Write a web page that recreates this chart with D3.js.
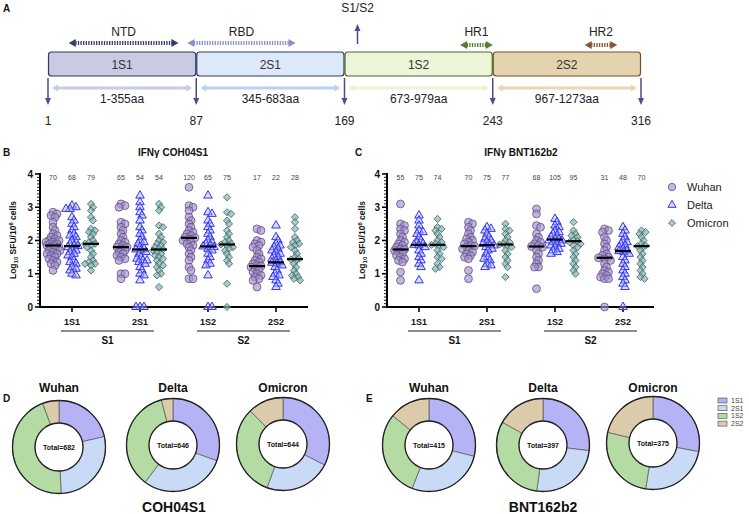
<!DOCTYPE html>
<html><head><meta charset="utf-8">
<script src="https://cdn.jsdelivr.net/npm/d3@7"></script>
<style>body{margin:0;background:#fff}svg{display:block;font-family:"Liberation Sans",Arial,Helvetica,sans-serif}</style>
</head><body><svg id="c" width="749" height="514"></svg>
<script>
// ---------- DATA ----------
const segments = ['1S1','2S1','1S2','2S2'];
const segRanges = ['1-355aa','345-683aa','673-979aa','967-1273aa'];
const boundaryLabels = ['1','87','169','243','316'];
const domainNames = ['NTD','RBD','HR1','HR2'];
const domainSpans = [[0.14,0.88],[0.94,1.67],[2.78,3.0],[3.62,3.84]]; // in segment units
const variants = ['Wuhan','Delta','Omicron'];
const pieKeys = ['1S1','2S1','1S2','2S2'];

// Panel B (COH04S1) values, per segment
const cohWuhan = [
  [2.85,2.8,2.75,2.7,2.55,2.4,2.3,2.2,2.15,2.1,2.05,2.0,1.95,1.9,1.9,1.85,1.85,1.8,1.8,1.75,1.7,1.7,1.65,1.6,1.55,1.5,1.45,1.4,1.35,1.3,1.25,1.1,2.0,1.95,1.6],
  [3.1,3.05,3.0,2.55,2.5,2.4,2.3,2.2,2.1,2.0,1.95,1.9,1.85,1.8,1.8,1.75,1.7,1.65,1.6,1.55,1.5,1.45,1.4,1.0,1.0,0.85],
  [3.6,3.05,3.0,2.9,2.7,2.6,2.5,2.4,2.3,2.25,2.2,2.15,2.1,2.08,2.05,2.0,1.95,1.9,1.85,1.8,1.7,1.6,1.5,1.4,1.2,1.1,0.85,0.85],
  [2.35,2.3,2.0,1.95,1.9,1.85,1.8,1.7,1.6,1.5,1.45,1.4,1.35,1.3,1.25,1.23,1.2,1.15,1.1,1.05,1.0,0.95,0.9,0.85,0.8,0.6]
];
const cohDelta = [
  [3.05,3.0,2.95,2.95,2.7,2.6,2.5,2.4,2.3,2.2,2.15,2.1,2.0,1.95,1.9,1.85,1.83,1.8,1.75,1.7,1.65,1.6,1.55,1.5,1.4,1.35,1.3,1.2,1.15,1.1,1.0,0.95],
  [3.35,3.15,3.0,2.85,2.75,2.6,2.4,2.3,2.2,2.1,2.0,1.95,1.9,1.8,1.75,1.73,1.7,1.65,1.6,1.5,1.45,1.4,1.4,1.35,1.3,1.2,1.1,1.0,0.95,0.8,0,0,0],
  [3.35,2.85,2.8,2.6,2.5,2.4,2.3,2.2,2.1,2.0,1.95,1.9,1.85,1.82,1.8,1.75,1.7,1.6,1.5,1.4,1.3,1.25,0.95,0,0],
  [2.45,2.1,2.0,1.9,1.85,1.8,1.75,1.7,1.65,1.6,1.55,1.5,1.45,1.4,1.35,1.33,1.3,1.25,1.2,1.1,1.0,0.95,0.9,0.8,0.7,0.6]
];
const cohOmicron = [
  [3.1,3.0,2.9,2.7,2.6,2.35,2.3,2.25,2.2,2.1,2.0,1.95,1.9,1.9,1.85,1.8,1.7,1.6,1.5,1.4,1.35,1.3,1.3,1.25,1.1],
  [3.1,3.0,2.9,2.45,2.4,2.2,2.1,2.0,1.95,1.9,1.85,1.8,1.75,1.73,1.7,1.65,1.6,1.55,1.5,1.45,1.4,1.3,1.25,1.2,1.1,1.0,0.95,0.6],
  [3.3,2.85,2.8,2.6,2.5,2.3,2.2,2.1,2.0,1.95,1.9,1.88,1.85,1.8,1.75,1.7,1.6,1.5,1.4,1.3,0.7,0],
  [2.7,2.55,2.35,2.1,2.0,1.95,1.9,1.85,1.8,1.7,1.6,1.5,1.45,1.43,1.4,1.3,1.2,1.1,1.0,0.95,0.9,0.85,0.8]
];
const cohMedWuhan = [1.85,1.8,2.08,1.23];
const cohMedDelta = [1.83,1.73,1.82,1.34];
const cohMedOmicron = [1.9,1.73,1.88,1.44];
const cohCounts = [[70,68,79],[65,54,54],[120,65,75],[17,22,28]];

// Panel C (BNT162b2) values, per segment
const bntWuhan = [
  [3.1,2.5,2.45,2.35,2.3,2.2,2.1,2.0,1.95,1.9,1.85,1.8,1.75,1.73,1.7,1.65,1.6,1.55,1.5,1.45,1.4,1.35,1.05,0.8],
  [2.55,2.5,2.4,2.3,2.2,2.1,2.05,2.0,1.95,1.9,1.85,1.83,1.8,1.75,1.7,1.65,1.6,1.55,1.5,1.45,1.1,0.85],
  [2.95,2.8,2.45,2.4,2.2,2.1,2.0,1.95,1.9,1.85,1.82,1.8,1.7,1.6,1.5,1.4,1.3,1.2,1.2,0.55],
  [2.35,2.3,2.25,2.1,2.0,1.9,1.8,1.7,1.6,1.55,1.5,1.48,1.45,1.4,1.3,1.2,1.1,1.05,1.0,0.95,0.9,0.85,0.85,0]
];
const bntDelta = [
  [2.75,2.6,2.45,2.3,2.25,2.2,2.1,2.0,1.95,1.9,1.87,1.85,1.8,1.7,1.6,1.5,1.4,1.3,1.2,0.8],
  [2.4,2.35,2.3,2.2,2.1,2.05,2.0,1.95,1.9,1.86,1.85,1.8,1.75,1.7,1.6,1.5,1.45,1.4,1.3,1.25,1.2],
  [2.65,2.55,2.45,2.4,2.3,2.25,2.2,2.15,2.1,2.05,2.03,2.0,1.95,1.9,1.85,1.8,1.75,1.7,1.65,1.6,2.0,1.9],
  [2.4,2.3,2.2,2.1,2.0,1.95,1.9,1.85,1.8,1.75,1.7,1.68,1.65,1.6,1.5,1.4,1.3,1.2,1.1,1.0,0.9,0.8,0.7,0.6,0]
];
const bntOmicron = [
  [2.65,2.4,2.35,2.3,2.2,2.1,2.0,1.95,1.9,1.87,1.85,1.8,1.7,1.6,1.5,1.45,1.3,1.2,1.15],
  [2.5,2.35,2.3,2.2,2.1,2.0,1.95,1.9,1.88,1.85,1.8,1.7,1.6,1.5,1.4,1.3,1.2,0.9],
  [2.55,2.3,2.2,2.15,2.1,2.0,1.98,1.95,1.9,1.85,1.8,1.7,1.6,1.5,1.4,1.3,1.2,1.1,1.0],
  [2.3,2.25,2.2,2.1,2.0,1.9,1.85,1.83,1.8,1.7,1.6,1.5,1.4,1.3,1.2,1.1,1.0,0.9,0.85]
];
const bntMedWuhan = [1.73,1.83,1.82,1.48];
const bntMedDelta = [1.87,1.86,2.03,1.68];
const bntMedOmicron = [1.87,1.88,1.98,1.83];
const bntCounts = [[55,75,74],[70,75,77],[68,105,95],[31,48,70]];

const yTicks = [0,1,2,3,4];

// Donut values (1S1, 2S1, 1S2, 2S2)
const cohWuhanPie = [146,190,307,39];
const cohDeltaPie = [197,192,231,26];
const cohOmicronPie = [209,149,206,80];
const bntWuhanPie = [120,112,124,59];
const bntDeltaPie = [107,100,123,67];
const bntOmicronPie = [105,92,98,80];

// ---------- DRAW ----------
const svg = d3.select('#c');
svg.append('rect').attr('width',749).attr('height',514).attr('fill','#fff');

function panelLetter(t,x,y){
  svg.append('text').attr('x',x).attr('y',y).attr('font-size',10).attr('font-weight','bold').attr('fill','#111').text(t);
}
panelLetter('A',3,12); panelLetter('B',3,156); panelLetter('C',355,156); panelLetter('D',3,402); panelLetter('E',366,402);

// ---- Panel A ----
const A = svg.append('g');
const segX = d3.scaleLinear().domain([0,4]).range([48,641]);
const boxFill = ['#c9cbe2','#dde8f8','#edf5d8','#e3d3ae'];
const boxStroke = ['#2f3868','#2f3868','#4b6a2c','#7a4a2c'];
const rangeCol = ['#c6cae6','#b9d1f1','#edf4d4','#e7d7b3'];
const domainCol = ['#363c6c','#8c92c6','#5b7b33','#8a5530'];
function dblArrow(g,x1,x2,y,color,sw,dash,hl,hw){
  g.append('line').attr('x1',x1+hl-0.5).attr('x2',x2-hl+0.5).attr('y1',y).attr('y2',y)
    .attr('stroke',color).attr('stroke-width',sw).attr('stroke-dasharray',dash||null);
  g.append('path').attr('d',`M${x1},${y}L${x1+hl},${y-hw}L${x1+hl},${y+hw}Z`).attr('fill',color);
  g.append('path').attr('d',`M${x2},${y}L${x2-hl},${y-hw}L${x2-hl},${y+hw}Z`).attr('fill',color);
}
segments.forEach((s,i)=>{
  const x0 = segX(i), x1 = segX(i+1);
  A.append('rect').attr('x',x0+0.5).attr('y',52).attr('width',x1-x0-1).attr('height',24).attr('rx',3)
    .attr('fill',boxFill[i]).attr('stroke',boxStroke[i]).attr('stroke-width',1.2);
  A.append('text').attr('x',(x0+x1)/2).attr('y',68.5).attr('text-anchor','middle').attr('font-size',12).attr('fill','#333').text(s);
  dblArrow(A,x0+4,x1-4,88,rangeCol[i],3,null,6,3.5);
  A.append('text').attr('x',(x0+x1)/2).attr('y',103).attr('text-anchor','middle').attr('font-size',12).attr('fill','#222').text(segRanges[i]);
});
boundaryLabels.forEach((b,i)=>{
  const x = segX(i);
  A.append('line').attr('x1',x).attr('x2',x).attr('y1',78).attr('y2',99).attr('stroke','#4a4e8a').attr('stroke-width',1.5);
  A.append('path').attr('d',`M${x},105L${x-3},98L${x+3},98Z`).attr('fill','#4a4e8a');
  A.append('text').attr('x',x).attr('y',125).attr('text-anchor','middle').attr('font-size',12).attr('fill','#222').text(b);
});
domainNames.forEach((n,i)=>{
  const x1 = segX(domainSpans[i][0]), x2 = segX(domainSpans[i][1]);
  const y = i<2 ? 43 : 45;
  dblArrow(A,x1,x2,y,domainCol[i],4,'1.3,1.3',7,4);
  A.append('text').attr('x',(x1+x2)/2).attr('y',36).attr('text-anchor','middle').attr('font-size',12).attr('fill','#222').text(n);
});
// S1/S2 cleavage arrow
{
  const x = segX(2)+13;
  A.append('line').attr('x1',x).attr('x2',x).attr('y1',44).attr('y2',30).attr('stroke','#4a4e8a').attr('stroke-width',1.5);
  A.append('path').attr('d',`M${x},24L${x-3},31L${x+3},31Z`).attr('fill','#4a4e8a');
  A.append('text').attr('x',x).attr('y',12).attr('text-anchor','middle').attr('font-size',12).attr('fill','#222').text('S1/S2');
}

// ---- Scatter panels ----
const styles = {
  Wuhan:{sym:d3.symbolCircle,size:48,fill:'rgba(165,145,205,0.65)',stroke:'#5f4f86',sw:0.8,rot:0},
  Delta:{sym:d3.symbolTriangle,size:32,fill:'rgba(165,175,250,0.45)',stroke:'#3535f2',sw:1,rot:0},
  Omicron:{sym:d3.symbolSquare,size:26,fill:'rgba(135,180,180,0.7)',stroke:'#3d6868',sw:0.8,rot:45}
};
function swarm(vals,y,d,maxOff){
  const pts = vals.map(v=>({v,y:y(v)})).sort((a,b)=>a.y-b.y);
  const placed=[];
  const cands=[0];
  for(let k=1;k<=maxOff;k++){cands.push(k,-k);}
  pts.forEach(p=>{
    let bestX=0,bestScore=-1;
    for(const c of cands){
      let m=Infinity;
      for(const q of placed){const dd=Math.hypot(q.x-c,q.y-p.y); if(dd<m)m=dd;}
      if(m>=d){bestX=c;bestScore=Infinity;break;}
      if(m>bestScore){bestScore=m;bestX=c;}
    }
    p.x=bestX; placed.push(p);
  });
  return pts;
}
function scatterPanel(o){
  const g = svg.append('g');
  const y = d3.scaleLinear().domain([0,4]).range([307,174]);
  const xs = d3.scalePoint().domain(segments).range(o.xr);
  const xv = d3.scalePoint().domain(variants).range([-o.vs,o.vs]);
  g.append('text').attr('x',o.titleX).attr('y',156).attr('text-anchor','middle').attr('font-size',10).attr('font-weight','bold').attr('fill','#111').text(o.title);
  const yl = g.append('text').attr('transform',`translate(${o.ylx},240) rotate(-90)`).attr('text-anchor','middle')
    .attr('font-size',8.5).attr('font-weight','bold').attr('fill','#111');
  yl.append('tspan').text('Log');
  yl.append('tspan').attr('font-size',6).attr('dy',2).text('10');
  yl.append('tspan').attr('dy',-2).text(' SFU/10');
  yl.append('tspan').attr('font-size',6).attr('dy',-3).text('6');
  yl.append('tspan').attr('dy',3).text(' cells');
  d3.range(0,40.5,1).forEach(k=>{
    const v=k/10, major = k%10===0;
    g.append('line').attr('x1',o.ax-(major?5:3)).attr('x2',o.ax).attr('y1',y(v)).attr('y2',y(v))
      .attr('stroke','#000').attr('stroke-width',major?1.6:0.9);
  });
  g.append('line').attr('x1',o.ax).attr('x2',o.ax).attr('y1',307).attr('y2',173).attr('stroke','#000').attr('stroke-width',2);
  yTicks.forEach(t=>g.append('text').attr('x',o.ax-7).attr('y',y(t)+3.5).attr('text-anchor','end').attr('font-size',10).attr('font-weight','bold').attr('fill','#111').text(t));
  g.append('line').attr('x1',o.ax-1).attr('x2',o.xend).attr('y1',307).attr('y2',307).attr('stroke','#000').attr('stroke-width',2);
  segments.forEach(s=>{
    g.append('line').attr('x1',xs(s)).attr('x2',xs(s)).attr('y1',307).attr('y2',312).attr('stroke','#000').attr('stroke-width',1.6);
    g.append('text').attr('x',xs(s)).attr('y',325).attr('text-anchor','middle').attr('font-size',9).attr('font-weight','bold').attr('fill','#111').text(s);
  });
  [['S1',0,1],['S2',2,3]].forEach(([lab,a,b])=>{
    const x1 = xs(segments[a])-11, x2 = xs(segments[b])+14;
    g.append('line').attr('x1',x1).attr('x2',x2).attr('y1',331).attr('y2',331).attr('stroke','#000').attr('stroke-width',0.9);
    g.append('text').attr('x',(x1+x2)/2).attr('y',344).attr('text-anchor','middle').attr('font-size',10).attr('font-weight','bold').attr('fill','#111').text(lab);
  });
  variants.forEach((v,vi)=>{
    const st = styles[v];
    segments.forEach((s,si)=>{
      const cx = xs(s)+xv(v);
      const pts = swarm(o.data[vi][si],y,3.8,7);
      g.selectAll(null).data(pts).enter().append('path')
        .attr('d',d3.symbol().type(st.sym).size(st.size))
        .attr('transform',d=>`translate(${cx+d.x},${d.y}) rotate(${st.rot})`)
        .attr('fill',st.fill).attr('stroke',st.stroke).attr('stroke-width',st.sw);
      g.append('text').attr('x',cx).attr('y',180).attr('text-anchor','middle').attr('font-size',7).attr('fill','#444').text(o.counts[si][vi]);
    });
  });
  variants.forEach((v,vi)=>{
    segments.forEach((s,si)=>{
      const cx = xs(s)+xv(v);
      const m = o.med[vi][si];
      g.append('line').attr('x1',cx-8).attr('x2',cx+8).attr('y1',y(m)).attr('y2',y(m)).attr('stroke','#000').attr('stroke-width',2.2);
    });
  });
}
scatterPanel({xr:[72,276],vs:19,ax:40,xend:308,ylx:16,titleX:173,title:'IFNγ COH04S1',
  data:[cohWuhan,cohDelta,cohOmicron],med:[cohMedWuhan,cohMedDelta,cohMedOmicron],counts:cohCounts});
scatterPanel({xr:[419,623],vs:18.5,ax:387,xend:654,ylx:365,titleX:521,title:'IFNγ BNT162b2',
  data:[bntWuhan,bntDelta,bntOmicron],med:[bntMedWuhan,bntMedDelta,bntMedOmicron],counts:bntCounts});

variants.forEach((v,i)=>{
  const st = styles[v], yy = 187+i*18;
  svg.append('path').attr('d',d3.symbol().type(st.sym).size(st.size*0.9))
    .attr('transform',`translate(672,${yy}) rotate(${st.rot})`).attr('fill',st.fill).attr('stroke',st.stroke).attr('stroke-width',st.sw);
  svg.append('text').attr('x',687).attr('y',yy+4).attr('font-size',11).attr('fill','#222').text(v);
});

// ---- Donuts ----
const pieCol = ['#b5b3f5','#c9daf7','#b3dba3','#dccbaa'];
const pie = d3.pie().sort(null);
const arc = d3.arc().innerRadius(24).outerRadius(46.5);
function donut(vals,cx,cy,title){
  const g = svg.append('g').attr('transform',`translate(${cx},${cy})`);
  g.selectAll(null).data(pie(vals)).enter().append('path').attr('d',arc)
    .attr('fill',(d,i)=>pieCol[i]).attr('stroke','#555').attr('stroke-width',0.7);
  g.append('circle').attr('r',46.5).attr('fill','none').attr('stroke','#222').attr('stroke-width',1.3);
  g.append('circle').attr('r',24).attr('fill','#fff').attr('stroke','#222').attr('stroke-width',1.3);
  g.append('text').attr('y',2.5).attr('text-anchor','middle').attr('font-size',7).attr('font-weight','bold').attr('fill','#111').text('Total='+d3.sum(vals));
  svg.append('text').attr('x',cx).attr('y',392).attr('text-anchor','middle').attr('font-size',12).attr('font-weight','bold').attr('fill','#111').text(title);
}
donut(cohWuhanPie,59,447,'Wuhan');
donut(cohDeltaPie,173,445,'Delta');
donut(cohOmicronPie,283,444,'Omicron');
donut(bntWuhanPie,429,445,'Wuhan');
donut(bntDeltaPie,543,445,'Delta');
donut(bntOmicronPie,653,443,'Omicron');
svg.append('text').attr('x',174).attr('y',512).attr('text-anchor','middle').attr('font-size',14).attr('font-weight','bold').attr('fill','#111').text('COH04S1');
svg.append('text').attr('x',543).attr('y',512).attr('text-anchor','middle').attr('font-size',14).attr('font-weight','bold').attr('fill','#111').text('BNT162b2');
pieKeys.forEach((k,i)=>{
  const yy = 398+i*7.7;
  svg.append('rect').attr('x',718).attr('y',yy).attr('width',9).attr('height',5).attr('fill',pieCol[i]).attr('stroke','#444').attr('stroke-width',0.6);
  svg.append('text').attr('x',731).attr('y',yy+5).attr('font-size',7).attr('fill','#444').text(k);
});
</script></body></html>
